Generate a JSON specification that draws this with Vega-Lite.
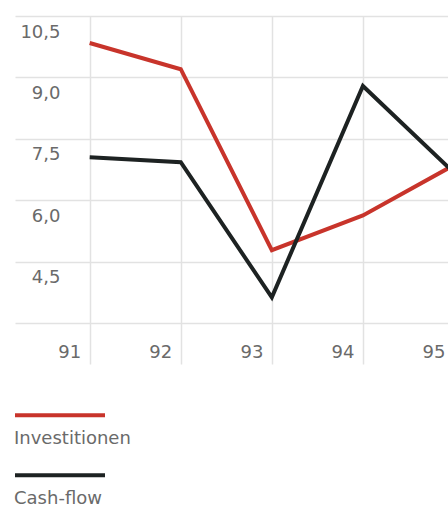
{
  "$schema": "https://vega.github.io/schema/vega-lite/v6.json",
  "autosize": {"type": "none"},
  "padding": {"left": 15, "top": 16, "right": 0, "bottom": 142},
  "width": 439,
  "height": 348,
  "background": "white",
  "data": {
    "values": [
      {"jahr": 91, "wert": 9.84, "serie": "Investitionen"},
      {"jahr": 92, "wert": 9.2, "serie": "Investitionen"},
      {"jahr": 93, "wert": 4.78, "serie": "Investitionen"},
      {"jahr": 94, "wert": 5.63, "serie": "Investitionen"},
      {"jahr": 95, "wert": 6.86, "serie": "Investitionen"},
      {"jahr": 91, "wert": 7.05, "serie": "Cash-flow"},
      {"jahr": 92, "wert": 6.93, "serie": "Cash-flow"},
      {"jahr": 93, "wert": 3.63, "serie": "Cash-flow"},
      {"jahr": 94, "wert": 8.79, "serie": "Cash-flow"},
      {"jahr": 95, "wert": 6.67, "serie": "Cash-flow"}
    ]
  },
  "mark": {"type": "line", "strokeWidth": 4, "strokeJoin": "miter", "clip": false},
  "encoding": {
    "x": {
      "field": "jahr", "type": "quantitative",
      "scale": {"domain": [90.18, 95], "nice": false, "zero": false},
      "axis": {
        "title": null, "values": [91, 92, 93, 94, 95], "domain": false, "ticks": false, "tickSize": 0,
        "grid": true, "gridColor": "#e2e2e2", "gridWidth": 1.5,
        "labelAlign": "right", "labelOffset": -9, "labelBaseline": "middle", "labelPadding": -11.5,
        "labelFont": "DejaVu Sans", "labelFontSize": 18, "labelColor": "#6a6a6a", "labelFlush": false
      }
    },
    "y": {
      "field": "wert", "type": "quantitative",
      "scale": {"domain": [2, 10.5], "nice": false, "zero": false},
      "axis": {
        "title": null, "values": [3, 4.5, 6, 7.5, 9, 10.5], "domain": false, "ticks": false, "tickSize": 0,
        "grid": true, "gridColor": "#e2e2e2", "gridWidth": 1.5,
        "labelExpr": "datum.value < 4 ? '' : replace(format(datum.value, '.1f'), '.', ',')",
        "labelAlign": "right", "labelPadding": -45, "labelBaseline": "middle", "labelOffset": 16,
        "labelFont": "DejaVu Sans", "labelFontSize": 18, "labelColor": "#6a6a6a", "labelFlush": false
      }
    },
    "color": {
      "field": "serie", "type": "nominal",
      "scale": {"domain": ["Investitionen", "Cash-flow"], "range": ["#c8342b", "#1d2222"]},
      "legend": {
        "title": null, "orient": "none", "legendX": -2, "legendY": 376, "direction": "vertical",
        "symbolType": "M-1,-0.53H1", "symbolSize": 8100, "symbolStrokeWidth": 4,
        "labelOffset": -93, "labelBaseline": "middle", "rowPadding": 4,
        "labelFont": "DejaVu Sans", "labelFontSize": 18, "labelColor": "#6a6a6a"
      }
    }
  },
  "config": {"view": {"stroke": null}}
}
